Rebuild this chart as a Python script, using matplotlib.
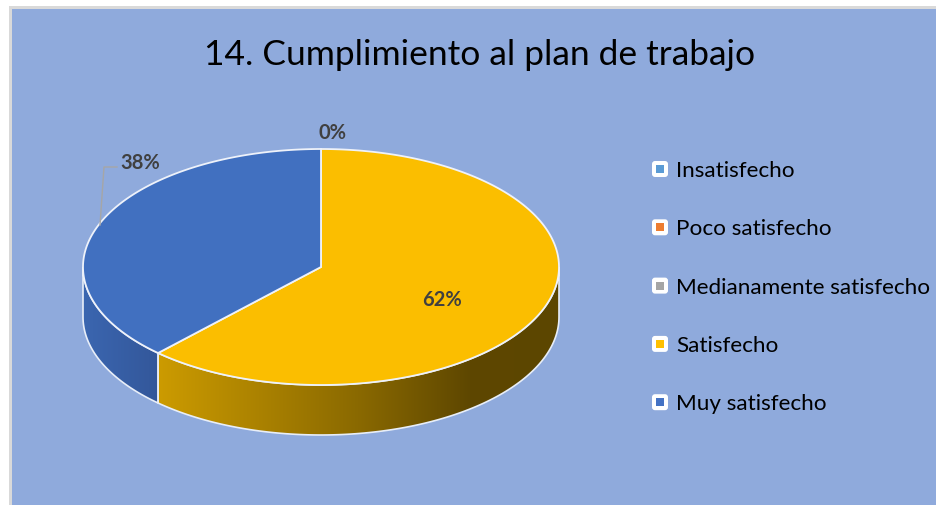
import numpy as np
import matplotlib.pyplot as plt
from matplotlib.patches import Polygon, FancyBboxPatch, Rectangle
from matplotlib.colors import LinearSegmentedColormap

# datos
categorias = ["Insatisfecho", "Poco satisfecho", "Medianamente satisfecho", "Satisfecho", "Muy satisfecho"]
porcentajes = [0, 0, 0, 62, 38]
colores_leyenda = ["#5B9BD5", "#ED7D31", "#A5A5A5", "#FFC000", "#4472C4"]
colores_pie = ["#5B9BD5", "#ED7D31", "#A5A5A5", "#FBBE00", "#4170C0"]
titulo = "14. Cumplimiento al plan de trabajo"

plt.rcParams['font.family'] = ['Lato', 'DejaVu Sans']

W, H = 937, 506
fig = plt.figure(figsize=(W / 100, H / 100), dpi=100)
fig.patch.set_facecolor("white")
ax = fig.add_axes([0, 0, 1, 1])
ax.axis("off")

# fondo del grafico
ax.add_patch(Rectangle((9, 7), W + 20, H + 20, facecolor="#D9D9D9", edgecolor="none", zorder=0))
ax.add_patch(Rectangle((12, 10), W + 20, H + 20, facecolor="#8FAADC", edgecolor="none", zorder=0))

ax.text(480, 55, titulo, ha="center", va="center", fontsize=25.5, color="black")

# pastel 3D (elipse)
cx, cy, a, b, prof = 321, 268, 238, 118, 50


def punto(t, dy=0):
    return cx + a * np.sin(t), cy - b * np.cos(t) + dy


def gradiente(poly, stops, x0, x1, z):
    cmap = LinearSegmentedColormap.from_list("g", stops)
    grad = np.linspace(0, 1, 256).reshape(1, -1)
    im = ax.imshow(grad, cmap=cmap, extent=[x0, x1, cy + b + prof + 5, cy - 5],
                   aspect="auto", zorder=2, interpolation="bilinear")
    im.set_clip_path(poly)


total = sum(porcentajes)
inicio = 0.0
lados = {3: [(0, "#CC9B00"), (0.5, "#8A6900"), (0.78, "#5E4700"), (1, "#5C4600")],
         4: [(0, "#3B66B0"), (1, "#33579A")]}
for i, v in enumerate(porcentajes):
    fin = inicio + 2 * np.pi * v / total
    if v > 0:
        # pared lateral frontal
        t0, t1 = max(inicio, np.pi / 2), min(fin, 3 * np.pi / 2)
        if t1 > t0:
            ts = np.linspace(t0, t1, 120)
            arriba = [punto(t) for t in ts]
            abajo = [punto(t, prof) for t in ts[::-1]]
            poly = Polygon(arriba + abajo, closed=True, facecolor="none",
                           edgecolor="#E8EEF8", linewidth=1.2, zorder=3)
            ax.add_patch(poly)
            xs = [p[0] for p in arriba]
            gradiente(poly, lados[i], min(xs), max(xs), 2)
        # cara superior
        ts = np.linspace(inicio, fin, 200)
        pts = [(cx, cy)] + [punto(t) for t in ts]
        ax.add_patch(Polygon(pts, closed=True, facecolor=colores_pie[i],
                             edgecolor="#EEF2FA", linewidth=1.3, zorder=4))
    inicio = fin

# etiquetas
pos_etiquetas = {2: (333, 133), 3: (442, 300), 4: (140, 163)}
for i, (x, y) in pos_etiquetas.items():
    ax.text(x, y, f"{porcentajes[i]}%", ha="center", va="center", fontsize=14.5,
            fontweight="bold", color="#404040", zorder=6)
ax.plot([117, 104, 100], [168, 168, 226], color="#A6A6A6", lw=1, zorder=5)

# leyenda
for k, (cat, col) in enumerate(zip(categorias, colores_leyenda)):
    y = 170 + k * 58.3
    ax.add_patch(FancyBboxPatch((652, y - 8), 16, 16, boxstyle="round,pad=0,rounding_size=3",
                                facecolor="white", edgecolor="none", zorder=5))
    ax.add_patch(Rectangle((656, y - 4), 8, 8, facecolor=col, edgecolor="none", zorder=6))
    ax.text(676, y + 1, cat, ha="left", va="center", fontsize=16.2, color="black", zorder=6)

ax.set_xlim(0, W)
ax.set_ylim(H, 0)
fig.savefig("out.png", dpi=100)
